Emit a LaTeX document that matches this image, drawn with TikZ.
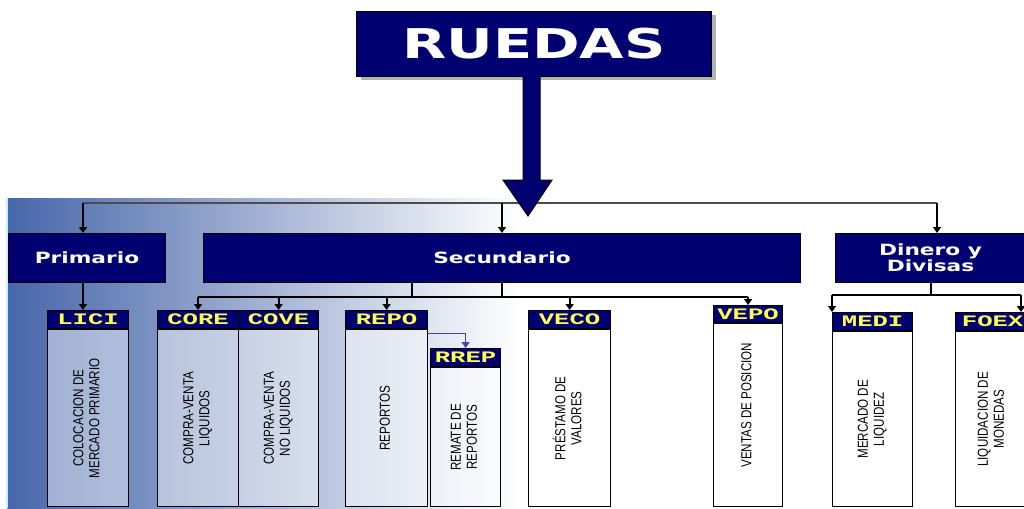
\documentclass[tikz,border=0pt]{standalone}
\usepackage{fontspec}
\newfontfamily\wideface[FakeStretch=1.4]{DejaVu Sans}
\newfontfamily\tagface[FakeStretch=1.6]{Liberation Mono}
\newfontfamily\narrowface[FakeStretch=0.8]{Liberation Sans}
\usetikzlibrary{arrows.meta,positioning,shadows}

\definecolor{navy}{RGB}{0,0,112}
\definecolor{tagyellow}{RGB}{255,255,80}
\definecolor{steel}{RGB}{72,102,170}
\definecolor{subblue}{RGB}{70,70,170}

\newcommand\uptext[1]{\rotatebox{90}{\begin{tabular}{@{}c@{}}#1\end{tabular}}}

\begin{document}
\begin{tikzpicture}[
  x=1pt, y=-1pt,
  title/.style={draw=black, line width=1pt, fill=navy, text=white, align=center, inner sep=0pt, anchor=north west,
    minimum height=49pt, font=\wideface\bfseries\fontsize{15.5}{14}\selectfont},
  tag/.style={draw=black, line width=1.2pt, fill=navy, text=tagyellow, inner sep=0pt, minimum height=18pt,
    anchor=north west, font=\tagface\bfseries\fontsize{16}{16}\selectfont},
  cell/.style={draw=black, line width=1.2pt, fill=white, fill opacity=0.45, text opacity=1, inner sep=0pt,
    font=\narrowface\fontsize{14.5}{16}\selectfont},
  line/.style={line width=2pt},
  arrow/.style={-{Triangle[width=8pt,length=6pt]}, line width=2pt}
]
\useasboundingbox (0,0) rectangle (1024,508);

% background
\fill[white] (0,0) rectangle (1024,508);
\shade[left color=steel, right color=white] (7,198) rectangle (520,508);
\draw[cyan!20, line width=1.5pt] (7,198) -- (7,508);

% top box
\node[title, minimum width=355pt, minimum height=65pt, font=\wideface\bfseries\fontsize{41}{41}\selectfont,
  drop shadow={shadow xshift=4pt, shadow yshift=-4pt, fill=black!50, opacity=0.6}] (ruedas) at (356,11) {RUEDAS};

% first level
\node[title, minimum width=157pt] (primario) at (8,233) {Primario};
\node[title, minimum width=597pt] (secundario) at (203,233) {Secundario};
\node[title, minimum width=190pt] (dinero) at (835,233) {Dinero y\\Divisas};

% second level
\node[tag, minimum width=81pt] (lici) at (47,310) {LICI};
\node[cell, below=0pt of lici, minimum width=81pt, minimum height=177pt] (licib) {\uptext{COLOCACION DE\\MERCADO PRIMARIO}};
\node[tag, minimum width=81pt] (core) at (157,310) {CORE};
\node[cell, below=0pt of core, minimum width=81pt, minimum height=177pt] (coreb) {\uptext{COMPRA-VENTA\\LIQUIDOS}};
\node[tag, minimum width=80pt] (cove) at (238,310) {COVE};
\node[cell, below=0pt of cove, minimum width=80pt, minimum height=177pt] (coveb) {\uptext{COMPRA-VENTA\\NO LIQUIDOS}};
\node[tag, minimum width=82pt] (repo) at (345,310) {REPO};
\node[cell, below=0pt of repo, minimum width=82pt, minimum height=177pt] (repob) {\uptext{REPORTOS}};
\node[tag, minimum width=70pt] (rrep) at (430,348) {RREP};
\node[cell, below=0pt of rrep, minimum width=70pt, minimum height=139pt] (rrepb) {\uptext{REMATE DE\\REPORTOS}};
\node[tag, minimum width=82pt] (veco) at (528,310) {VECO};
\node[cell, below=0pt of veco, minimum width=82pt, minimum height=177pt] (vecob) {\uptext{PRÉSTAMO DE\\VALORES}};
\node[tag, minimum width=69pt, minimum height=17pt] (vepo) at (713,305) {VEPO};
\node[cell, below=0pt of vepo, minimum width=69pt, minimum height=183pt] (vepob) {\raisebox{20pt}{\uptext{VENTAS DE POSICION}}};
\node[tag, minimum width=80pt] (medi) at (832,312) {MEDI};
\node[cell, below=0pt of medi, minimum width=80pt, minimum height=175pt] (medib) {\uptext{MERCADO DE\\LIQUIDEZ}};
\node[tag, minimum width=74pt] (foex) at (955,312) {FOEX};
\node[cell, below=0pt of foex, minimum width=74pt, minimum height=175pt] (foexb) {\uptext{LIQUIDACION DE\\MONEDAS}};

% connectors
\coordinate (busL) at (83,203);
\coordinate (busR) at (937,203);
\draw[line, black!70] (busL) -- (busR);
\draw[arrow] (busL) -- (busL |- primario.north);
\draw[arrow] (secundario.north |- busL) -- (secundario.north);
\draw[arrow] (busR) -- (busR |- dinero.north);
\draw[arrow] (busL |- primario.south) -- (busL |- lici.north);

\coordinate (sbusL) at (197.5,297);
\coordinate (sbusR) at (747.5,297);
\coordinate (sstem) at (412,297);
\draw[line] (sbusL) -- (sbusR);
\draw[line] (sstem |- secundario.south) -- (sstem);
\draw[line] (secundario.south) -- (secundario.south |- sbusL);
\draw[arrow] (core.north |- sbusL) -- (core.north);
\draw[arrow] (cove.north |- sbusL) -- (cove.north);
\draw[arrow] (repo.north |- sbusL) -- (repo.north);
\draw[arrow] (veco.north |- sbusL) -- (veco.north);
\draw[arrow] (vepo.north |- sbusL) -- (vepo.north);
\draw[arrow, subblue, line width=1.2pt] ([yshift=-4pt]repob.north east) -| (rrep.north);

\coordinate (dbusL) at (832,295);
\coordinate (dbusR) at (1021,295);
\draw[line] (dinero.south) -- (dinero.south |- dbusL);
\draw[line] (dbusL) -- (dbusR);
\draw[arrow] (dbusL) -- (dbusL |- medi.north);
\draw[arrow] (dbusR) -- (dbusR |- foex.north);

% big arrow
\draw[line width=1pt, fill=navy] (523,76) -- (523,180) -- (503,180) -- (528,216) -- (552,180) -- (540,180) -- (540,76);
\end{tikzpicture}
\end{document}
